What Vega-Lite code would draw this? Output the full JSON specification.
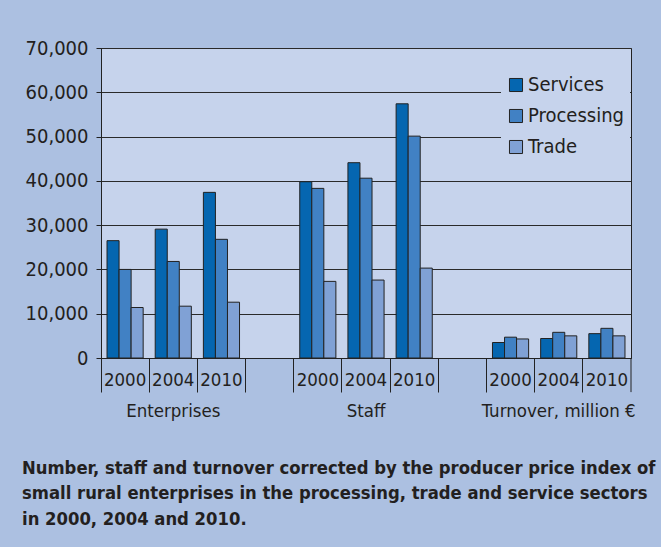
{
  "$schema": "https://vega.github.io/schema/vega-lite/v6.json",
  "width": 530,
  "height": 310,
  "autosize": {"type": "none"},
  "padding": {"left": 101, "top": 48, "right": 30, "bottom": 189},
  "background": "#acc0e1",
  "title": {
    "text": ["Number, staff and turnover corrected by the producer price index of", "small rural enterprises in the processing, trade and service sectors", "in 2000, 2004 and 2010."],
    "orient": "bottom",
    "anchor": "start",
    "frame": "group",
    "dx": -79,
    "offset": 40,
    "fontSize": 18.3,
    "fontWeight": "bold",
    "lineHeight": 25.5,
    "color": "#231f20"
  },
  "data": {
    "values": [
      {"slot": "E2000", "sector": "Services", "value": 26500},
      {"slot": "E2000", "sector": "Processing", "value": 20000},
      {"slot": "E2000", "sector": "Trade", "value": 11400},
      {"slot": "E2004", "sector": "Services", "value": 29100},
      {"slot": "E2004", "sector": "Processing", "value": 21800},
      {"slot": "E2004", "sector": "Trade", "value": 11700},
      {"slot": "E2010", "sector": "Services", "value": 37400},
      {"slot": "E2010", "sector": "Processing", "value": 26800},
      {"slot": "E2010", "sector": "Trade", "value": 12600},
      {"slot": "S2000", "sector": "Services", "value": 39800},
      {"slot": "S2000", "sector": "Processing", "value": 38300},
      {"slot": "S2000", "sector": "Trade", "value": 17300},
      {"slot": "S2004", "sector": "Services", "value": 44100},
      {"slot": "S2004", "sector": "Processing", "value": 40600},
      {"slot": "S2004", "sector": "Trade", "value": 17600},
      {"slot": "S2010", "sector": "Services", "value": 57400},
      {"slot": "S2010", "sector": "Processing", "value": 50100},
      {"slot": "S2010", "sector": "Trade", "value": 20300},
      {"slot": "T2000", "sector": "Services", "value": 3500},
      {"slot": "T2000", "sector": "Processing", "value": 4700},
      {"slot": "T2000", "sector": "Trade", "value": 4300},
      {"slot": "T2004", "sector": "Services", "value": 4400},
      {"slot": "T2004", "sector": "Processing", "value": 5800},
      {"slot": "T2004", "sector": "Trade", "value": 5000},
      {"slot": "T2010", "sector": "Services", "value": 5500},
      {"slot": "T2010", "sector": "Processing", "value": 6700},
      {"slot": "T2010", "sector": "Trade", "value": 5000}
    ]
  },
  "layer": [
    {
      "mark": {"type": "bar", "stroke": "#222222", "strokeWidth": 1, "opacity": 1},
      "encoding": {
        "x": {
          "field": "slot",
          "type": "nominal",
          "scale": {
            "domain": ["E2000", "E2004", "E2010", "G1", "S2000", "S2004", "S2010", "G2", "T2000", "T2004", "T2010"],
            "paddingInner": 0,
            "paddingOuter": 0
          },
          "axis": {
            "title": null,
            "labelAngle": 0,
            "bandPosition": 0,
            "tickSize": 34,
            "tickColor": "#222222",
            "tickWidth": 1,
            "domainColor": "#222222",
            "labelPadding": -22,
            "labelBaseline": "top",
            "labelFontSize": 18.5,
            "labelLineHeight": 31,
            "labelColor": "#231f20",
            "labelOverlap": false,
            "labelBound": false,
            "labelLimit": 400,
            "labelFlush": false,
            "labelExpr": "indexof(datum.value, 'G') == 0 ? '' : datum.value == 'E2004' ? ['2004', 'Enterprises'] : datum.value == 'S2004' ? ['2004', 'Staff'] : datum.value == 'T2004' ? ['2004', 'Turnover, million €'] : substring(datum.value, 1)"
          }
        },
        "xOffset": {
          "field": "sector",
          "type": "nominal",
          "sort": ["Services", "Processing", "Trade"],
          "scale": {"paddingInner": 0, "paddingOuter": 0.5}
        },
        "y": {
          "field": "value",
          "type": "quantitative",
          "scale": {"domain": [0, 70000], "nice": false},
          "axis": {
            "title": null,
            "values": [0, 10000, 20000, 30000, 40000, 50000, 60000, 70000],
            "format": ",d",
            "grid": true,
            "gridColor": "#2a2a2a",
            "gridWidth": 1,
            "gridOpacity": 1,
            "domainColor": "#222222",
            "tickColor": "#222222",
            "tickSize": 5,
            "labelPadding": 8,
            "labelFontSize": 20,
            "labelColor": "#231f20"
          }
        },
        "color": {
          "field": "sector",
          "type": "nominal",
          "scale": {"domain": ["Services", "Processing", "Trade"], "range": ["#0566b0", "#4181c4", "#80a1d5"]},
          "legend": {
            "title": null,
            "orient": "none",
            "legendX": 400,
            "legendY": 22,
            "fillColor": "#c6d3ec",
            "padding": 5,
            "labelFontSize": 20,
            "labelColor": "#231f20",
            "labelOffset": 2,
            "symbolType": "square",
            "symbolSize": 170,
            "symbolStrokeColor": "#222222",
            "symbolStrokeWidth": 1,
            "symbolOpacity": 1,
            "rowPadding": 11
          }
        }
      }
    },
    {
      "data": {"values": [{"slot": "T2010"}]},
      "mark": {"type": "rule", "color": "#222222", "strokeWidth": 1},
      "encoding": {
        "x": {"field": "slot", "type": "nominal", "bandPosition": 1},
        "y": {"datum": 0},
        "y2": {"datum": -7700}
      }
    }
  ],
  "config": {
    "font": "'Liberation Sans Narrow', 'DejaVu Sans Condensed', 'Roboto Condensed', 'Liberation Sans', sans-serif",
    "view": {"fill": "#c6d3ec", "stroke": "#222222", "strokeWidth": 1}
  }
}
